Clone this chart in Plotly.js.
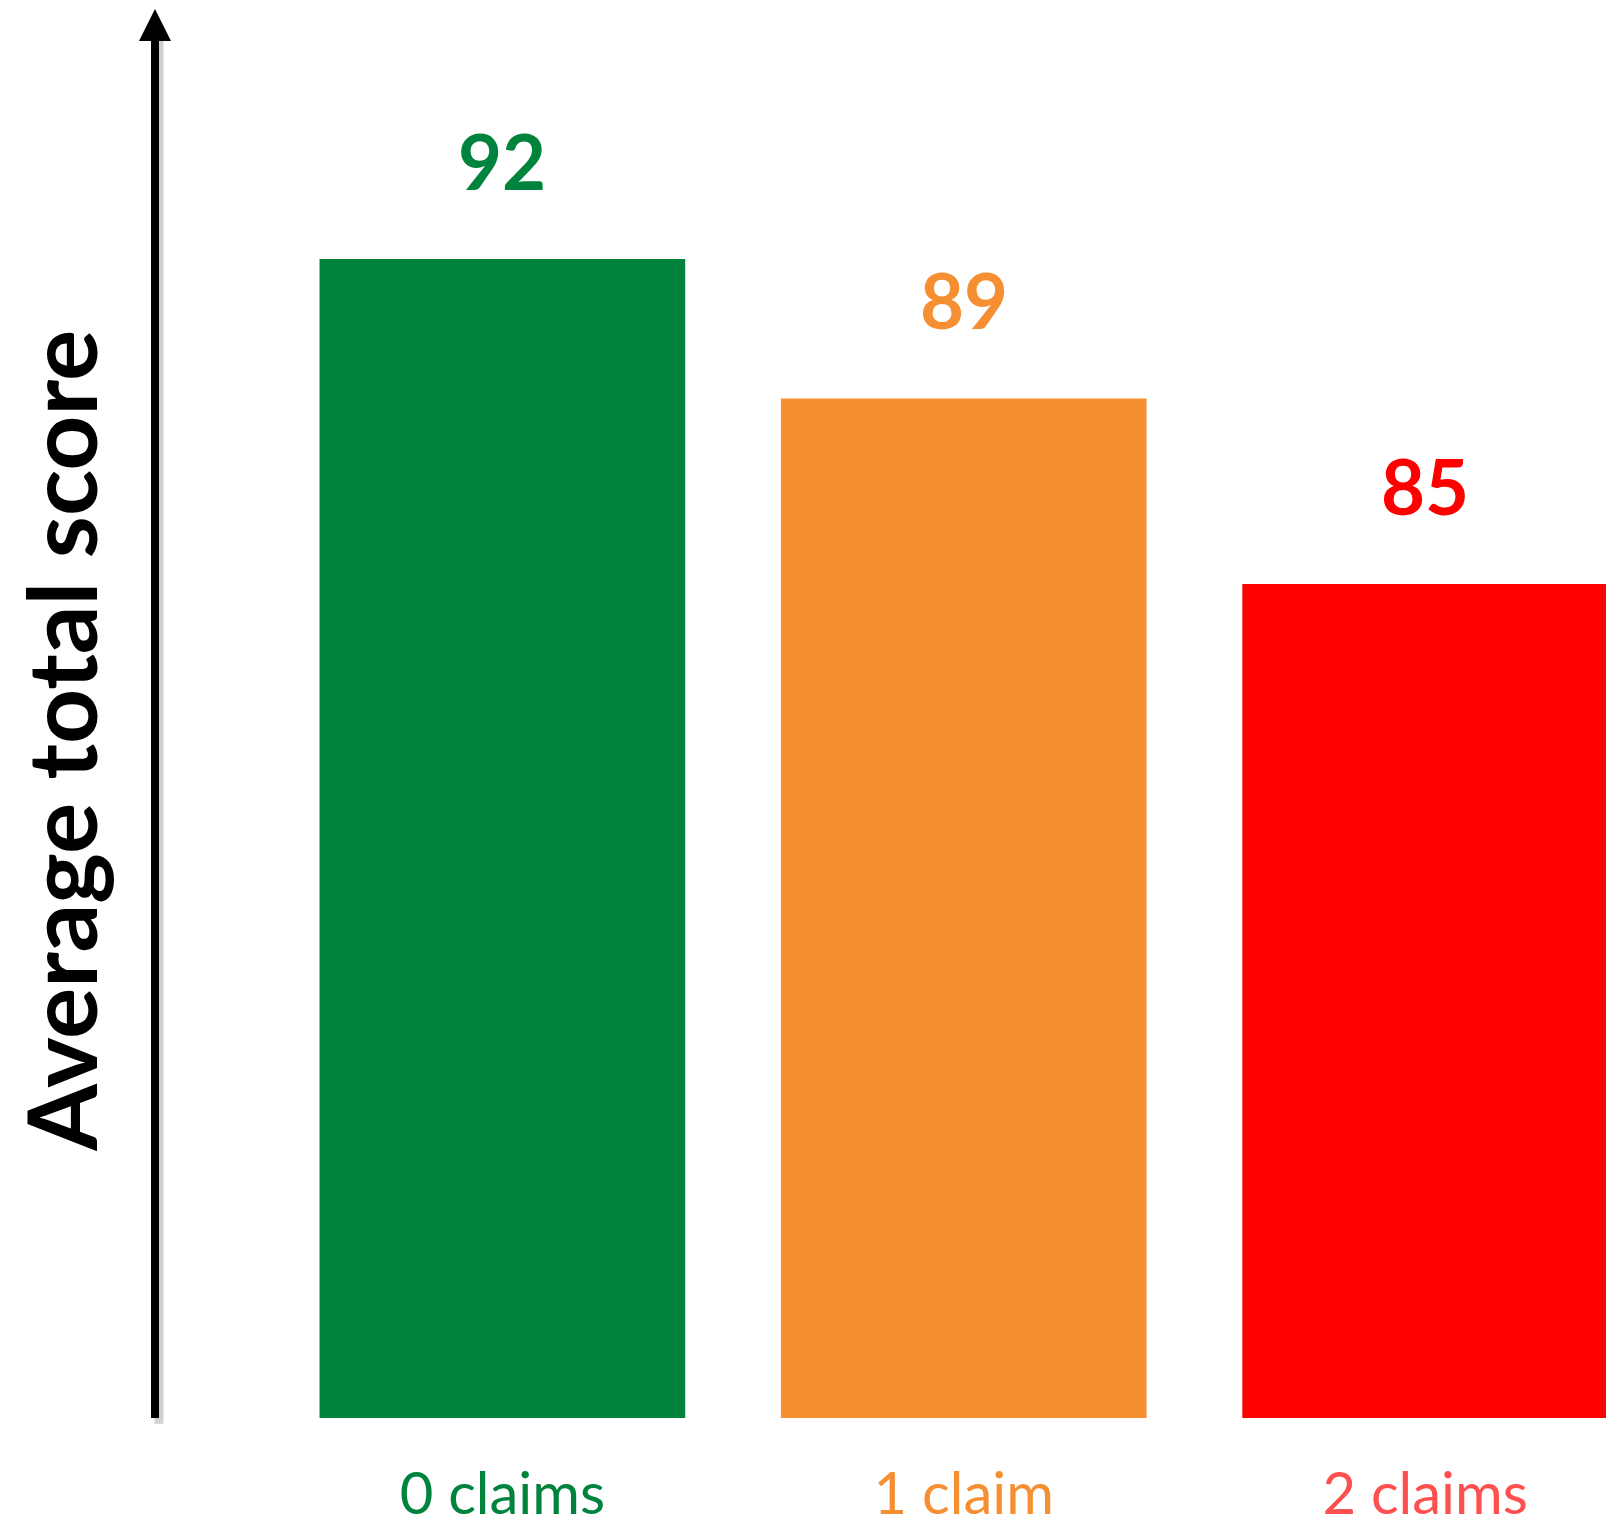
<!DOCTYPE html>
<html>
<head>
<meta charset="utf-8">
<script src="https://cdn.plot.ly/plotly-3.0.1.min.js"></script>
<style>html,body{margin:0;padding:0;background:#fff;}#chart{width:1606px;height:1525px;}</style>
</head>
<body>
<div id="chart"></div>
<script>
// Data
const categories = ["0 claims", "1 claim", "2 claims"];
const scores = [92, 89, 85];
const barColors = ["#00843D", "#F58F31", "#FF0000"];
const labelColors = ["#00843D", "#F58F31", "#FF5050"];
const valueLabelColors = ["#00843D", "#F58F31", "#FF0000"];
const yAxisTitle = "Average total score";

const trace = {
  type: "bar",
  x: categories,
  y: scores,
  marker: { color: barColors, line: { width: 0 } },
  hoverinfo: "skip",
  showlegend: false
};

const valueAnnotations = categories.map((c, i) => ({
  x: c, y: scores[i], xref: "x", yref: "y",
  text: "<b>" + scores[i] + "</b>",
  showarrow: false, yanchor: "bottom", yshift: 51,
  font: { family: "Lato, 'Open Sans', sans-serif", size: 76, color: valueLabelColors[i] }
}));

const layout = {
  width: 1606, height: 1525,
  margin: { l: 155, r: 0, t: 0, b: 106.5 },
  paper_bgcolor: "#ffffff", plot_bgcolor: "#ffffff",
  bargap: 0.2074,
  xaxis: {
    type: "category",
    range: [-0.7529, 2.392],
    tickvals: categories,
    ticktext: categories.map((c, i) => '<span style="color:' + labelColors[i] + '">' + c + '</span>'),
    tickfont: { family: "Lato, 'Open Sans', sans-serif", size: 58 },
    ticks: "", showline: false, showgrid: false, zeroline: false,
    ticklabelstandoff: 37
  },
  yaxis: {
    range: [67.04, 97.58],
    showticklabels: false, ticks: "", showgrid: false, zeroline: false, showline: false
  },
  shapes: [
    { type: "line", xref: "paper", yref: "paper", xsizemode: "pixel", xanchor: 0,
      x0: 4, x1: 4, y0: -0.004, y1: 0.972, line: { color: "rgba(0,0,0,0.18)", width: 9 }, layer: "above" },
    { type: "line", xref: "paper", yref: "paper", xsizemode: "pixel", xanchor: 0,
      x0: 0, x1: 0, y0: 0, y1: 0.975, line: { color: "#000000", width: 8 }, layer: "above" },
    { type: "path", xref: "paper", yref: "paper", xsizemode: "pixel", xanchor: 0,
      path: "M -16,0.9711 L 16,0.9711 L 0,0.99366 Z",
      fillcolor: "#000000", line: { width: 0 }, layer: "above" }
  ],
  annotations: valueAnnotations.concat([{
    xref: "paper", yref: "paper", x: 0, y: 0.4776, xshift: -95,
    text: "<b>" + yAxisTitle + "</b>", textangle: -90, showarrow: false,
    xanchor: "center", yanchor: "middle",
    font: { family: "Lato, 'Open Sans', sans-serif", size: 96, color: "#000000" }
  }])
};

Plotly.newPlot("chart", [trace], layout, { displayModeBar: false, staticPlot: true });
</script>
</body>
</html>
